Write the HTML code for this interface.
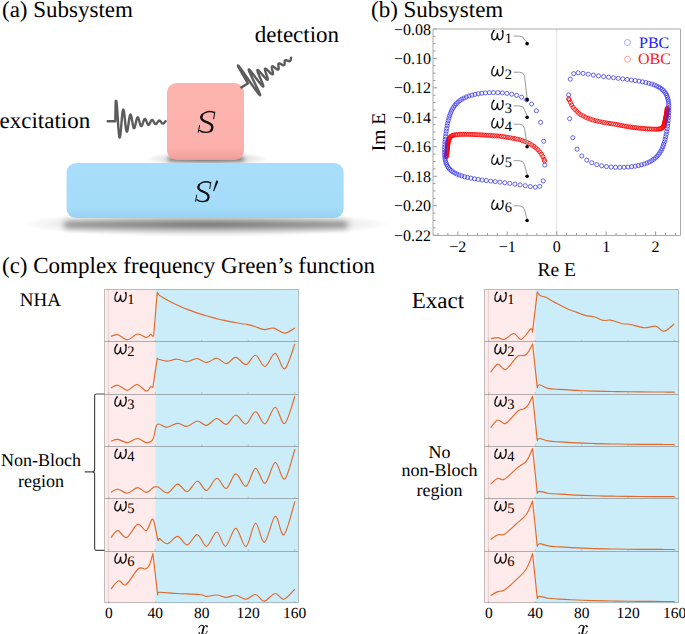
<!DOCTYPE html>
<html><head><meta charset="utf-8"><style>
html,body{margin:0;padding:0;background:#fff;}
body{width:685px;height:634px;overflow:hidden;position:relative;font-family:"Liberation Serif",serif;}
</style></head><body>
<svg width="685" height="634" viewBox="0 0 685 634" style="position:absolute;left:0;top:0" text-rendering="geometricPrecision">
<defs>
<filter id="blur4" x="-20%" y="-200%" width="140%" height="500%"><feGaussianBlur stdDeviation="3.4"/></filter>
<filter id="blur2" x="-20%" y="-200%" width="140%" height="500%"><feGaussianBlur stdDeviation="2.2"/></filter>
<radialGradient id="gsh" cx="0.5" cy="0.5" r="0.5"><stop offset="0" stop-color="#000" stop-opacity="0.3"/><stop offset="0.6" stop-color="#000" stop-opacity="0.13"/><stop offset="1" stop-color="#000" stop-opacity="0"/></radialGradient>
<linearGradient id="gpink" x1="0" y1="0" x2="0" y2="1"><stop offset="0" stop-color="#FDB4AF"/><stop offset="0.84" stop-color="#FBB0AB"/><stop offset="0.94" stop-color="#F5A5A0"/><stop offset="1" stop-color="#EE9B96"/></linearGradient>
<linearGradient id="gblue" x1="0" y1="0" x2="0" y2="1"><stop offset="0" stop-color="#A8DEFC"/><stop offset="0.8" stop-color="#A5DCFA"/><stop offset="1" stop-color="#98D2F2"/></linearGradient>
</defs>
<ellipse cx="206" cy="224" rx="186" ry="13" fill="url(#gsh)"/>
<rect x="64" y="221.8" width="284" height="6" rx="3" fill="#222" opacity="0.55" filter="url(#blur4)"/>
<ellipse cx="207" cy="159" rx="62" ry="8" fill="url(#gsh)"/>
<rect x="168" y="157.5" width="76" height="3.5" rx="1.7" fill="#222" opacity="0.7" filter="url(#blur2)"/>
<rect x="66.6" y="163" width="277" height="55" rx="9.5" fill="url(#gblue)"/>
<rect x="167" y="83" width="77" height="77" rx="9.5" fill="url(#gpink)"/>
<g transform="translate(197.6,111.6) scale(1.08,1.05)" fill="none" stroke="#111" stroke-linecap="round"><path d="M15.5,1.0 C13.4,-0.1 9.6,-0.3 7.1,0.9 C4.6,2.1 3.0,4.4 3.6,6.5 C4.2,8.6 7.5,9.6 10.0,10.7 C12.5,11.8 14.1,13.3 13.6,15.7 C13.1,18.2 10.5,19.8 7.8,19.8 C5.4,19.8 3.4,19.3 2.1,17.9" stroke-width="1.35"/><path d="M4.2,3.2 C3.3,4.6 3.2,5.8 3.7,6.8 C4.5,8.7 7.6,9.7 10.0,10.7 C12.5,11.8 14.0,13.3 13.6,15.7 C13.4,16.8 12.9,17.7 12.2,18.4" stroke-width="2.2"/><path d="M15.9,0.3 L14.9,6.8 M1.8,13.3 L0.6,19.6" stroke-width="0.95"/></g>
<g transform="translate(194.9,181.8) scale(1,1)" fill="none" stroke="#111" stroke-linecap="round"><path d="M15.5,1.0 C13.4,-0.1 9.6,-0.3 7.1,0.9 C4.6,2.1 3.0,4.4 3.6,6.5 C4.2,8.6 7.5,9.6 10.0,10.7 C12.5,11.8 14.1,13.3 13.6,15.7 C13.1,18.2 10.5,19.8 7.8,19.8 C5.4,19.8 3.4,19.3 2.1,17.9" stroke-width="1.35"/><path d="M4.2,3.2 C3.3,4.6 3.2,5.8 3.7,6.8 C4.5,8.7 7.6,9.7 10.0,10.7 C12.5,11.8 14.0,13.3 13.6,15.7 C13.4,16.8 12.9,17.7 12.2,18.4" stroke-width="2.2"/><path d="M15.9,0.3 L14.9,6.8 M1.8,13.3 L0.6,19.6" stroke-width="0.95"/></g>
<path d="M216.2,180.6 Q217.8,180.2 218.2,181.8 L214.2,190.9 Q213.6,191.4 213.2,190.8 Z" fill="#111"/>
<path d="M0,0 L7.6,0 L7.95,-19.18 L8.15,-20.17 L8.35,-20.52 L8.55,-20.24 L8.75,-19.36 L8.95,-17.91 L9.15,-15.96 L9.35,-13.58 L9.55,-10.85 L9.75,-7.87 L9.95,-4.73 L10.15,-1.52 L10.35,1.65 L10.55,4.69 L10.75,7.51 L10.95,10.04 L11.15,12.2 L11.35,13.95 L11.55,15.24 L11.75,16.05 L11.95,16.37 L12.15,16.2 L12.35,15.56 L12.55,14.49 L12.75,13.02 L12.95,11.22 L13.15,9.15 L13.35,6.88 L13.55,4.48 L13.75,2.04 L13.95,-0.39 L14.15,-2.71 L14.35,-4.87 L14.55,-6.8 L14.75,-8.46 L14.95,-9.79 L15.15,-10.77 L15.35,-11.38 L15.55,-11.61 L15.75,-11.46 L15.95,-10.94 L16.15,-10.09 L16.35,-8.94 L16.55,-7.52 L16.75,-5.9 L16.95,-4.11 L17.15,-2.23 L17.35,-0.31 L17.55,1.59 L17.75,3.42 L17.95,5.12 L18.15,6.64 L18.35,7.95 L18.55,9.01 L18.75,9.79 L18.95,10.28 L19.15,10.47 L19.35,10.37 L19.55,9.99 L19.75,9.34 L19.95,8.45 L20.15,7.35 L20.35,6.09 L20.55,4.71 L20.75,3.25 L20.95,1.75 L21.15,0.27 L21.35,-1.16 L21.55,-2.49 L21.75,-3.68 L21.95,-4.7 L22.15,-5.52 L22.35,-6.13 L22.55,-6.52 L22.75,-6.67 L22.95,-6.58 L23.15,-6.28 L23.35,-5.76 L23.55,-5.06 L23.75,-4.19 L23.95,-3.19 L24.15,-2.09 L24.35,-0.93 L24.55,0.25 L24.75,1.43 L24.95,2.57 L25.15,3.62 L25.35,4.57 L25.55,5.39 L25.75,6.05 L25.95,6.54 L26.15,6.85 L26.35,6.98 L26.55,6.92 L26.75,6.68 L26.95,6.28 L27.15,5.72 L27.35,5.04 L27.55,4.25 L27.75,3.38 L27.95,2.46 L28.15,1.51 L28.35,0.57 L28.55,-0.33 L28.75,-1.17 L28.95,-1.93 L29.15,-2.58 L29.35,-3.11 L29.55,-3.51 L29.75,-3.76 L29.95,-3.86 L30.15,-3.81 L30.35,-3.62 L30.55,-3.3 L30.75,-2.85 L30.95,-2.3 L31.15,-1.67 L31.35,-0.97 L31.55,-0.22 L31.75,0.54 L31.95,1.3 L32.15,2.03 L32.35,2.71 L32.55,3.33 L32.75,3.86 L32.95,4.29 L33.15,4.61 L33.35,4.82 L33.55,4.91 L33.75,4.87 L33.95,4.72 L34.15,4.46 L34.35,4.1 L34.55,3.66 L34.75,3.14 L34.95,2.57 L35.15,1.97 L35.35,1.35 L35.55,0.73 L35.75,0.13 L35.95,-0.42 L36.15,-0.93 L36.35,-1.36 L36.55,-1.72 L36.75,-1.98 L36.95,-2.15 L37.15,-2.23 L37.35,-2.2 L37.55,-2.08 L37.75,-1.86 L37.95,-1.57 L38.15,-1.21 L38.35,-0.78 L38.55,-0.31 L38.75,0.19 L38.95,0.7 L39.15,1.21 L39.35,1.7 L39.55,2.17 L39.75,2.58 L39.95,2.95 L40.15,3.24 L40.35,3.46 L40.55,3.61 L40.75,3.67 L40.95,3.65 L41.15,3.55 L41.35,3.38 L41.55,3.13 L41.75,2.83 L41.95,2.48 L42.15,2.09 L42.35,1.67 L42.55,1.24 L42.75,0.82 L42.95,0.4 L43.15,0.02 L43.35,-0.34 L43.55,-0.64 L43.75,-0.89 L43.95,-1.08 L44.15,-1.2 L44.35,-1.25 L44.55,-1.24 L44.75,-1.16 L44.95,-1.01 L45.15,-0.81 L45.35,-0.55 L45.55,-0.25 L45.75,0.07 L45.95,0.43 L46.15,0.79 L46.35,1.15 L46.55,1.5 L46.75,1.83 L46.95,2.13 L47.15,2.39 L47.35,2.6 L47.55,2.76 L47.75,2.87 L47.95,2.92 L48.15,2.91 L48.35,2.84 L48.55,2.71 L48.75,2.54 L48.95,2.32 L49.15,2.07 L49.35,1.79 L49.55,1.49 L49.75,1.18 L49.95,0.87 L50.15,0.57 L50.35,0.28 L50.55,0.03 L50.75,-0.2 L50.95,-0.38 L51.15,-0.52 L51.35,-0.61 L51.55,-0.66 L51.75,-0.65 L51.95,-0.59 L52.15,-0.48 L52.35,-0.33 L52.55,-0.15 L52.75,0.07 L52.95,0.31 L53.15,0.57 L53.35,0.84 L53.55,1.11 L53.75,1.38 L53.95,1.62 L54.15,1.85 L54.35,2.04 L54.55,2.2 L54.75,2.33 L54.95,2.41 L55.15,2.44 L55.35,2.44 L55.55,2.39 L55.75,2.3 L55.95,2.17 L56.15,2 L56.35,1.81 L56.55,1.6 L56.75,1.37 L56.95,1.14 L57.15,0.9 L57.35,0.67 L57.55,0.45 L57.75,0.25 L57.95,0.08" transform="translate(107.7,121.2)" fill="none" stroke="#5c5c5c" stroke-width="2.4" stroke-linecap="round" stroke-linejoin="round"/>
<path d="M0,0 L7.6,0 L7.95,-19.18 L8.15,-20.17 L8.35,-20.52 L8.55,-20.24 L8.75,-19.36 L8.95,-17.91 L9.15,-15.96 L9.35,-13.58 L9.55,-10.85 L9.75,-7.87 L9.95,-4.73 L10.15,-1.52 L10.35,1.65 L10.55,4.69 L10.75,7.51 L10.95,10.04 L11.15,12.2 L11.35,13.95 L11.55,15.24 L11.75,16.05 L11.95,16.37 L12.15,16.2 L12.35,15.56 L12.55,14.49 L12.75,13.02 L12.95,11.22 L13.15,9.15 L13.35,6.88 L13.55,4.48 L13.75,2.04 L13.95,-0.39 L14.15,-2.71 L14.35,-4.87 L14.55,-6.8 L14.75,-8.46 L14.95,-9.79 L15.15,-10.77 L15.35,-11.38 L15.55,-11.61 L15.75,-11.46 L15.95,-10.94 L16.15,-10.09 L16.35,-8.94 L16.55,-7.52 L16.75,-5.9 L16.95,-4.11 L17.15,-2.23 L17.35,-0.31 L17.55,1.59 L17.75,3.42 L17.95,5.12 L18.15,6.64 L18.35,7.95 L18.55,9.01 L18.75,9.79 L18.95,10.28 L19.15,10.47 L19.35,10.37 L19.55,9.99 L19.75,9.34 L19.95,8.45 L20.15,7.35 L20.35,6.09 L20.55,4.71 L20.75,3.25 L20.95,1.75 L21.15,0.27 L21.35,-1.16 L21.55,-2.49 L21.75,-3.68 L21.95,-4.7 L22.15,-5.52 L22.35,-6.13 L22.55,-6.52 L22.75,-6.67 L22.95,-6.58 L23.15,-6.28 L23.35,-5.76 L23.55,-5.06 L23.75,-4.19 L23.95,-3.19 L24.15,-2.09 L24.35,-0.93 L24.55,0.25 L24.75,1.43 L24.95,2.57 L25.15,3.62 L25.35,4.57 L25.55,5.39 L25.75,6.05 L25.95,6.54 L26.15,6.85 L26.35,6.98 L26.55,6.92 L26.75,6.68 L26.95,6.28 L27.15,5.72 L27.35,5.04 L27.55,4.25 L27.75,3.38 L27.95,2.46 L28.15,1.51 L28.35,0.57 L28.55,-0.33 L28.75,-1.17 L28.95,-1.93 L29.15,-2.58 L29.35,-3.11 L29.55,-3.51 L29.75,-3.76 L29.95,-3.86 L30.15,-3.81 L30.35,-3.62 L30.55,-3.3 L30.75,-2.85 L30.95,-2.3 L31.15,-1.67 L31.35,-0.97 L31.55,-0.22 L31.75,0.54 L31.95,1.3 L32.15,2.03 L32.35,2.71 L32.55,3.33 L32.75,3.86 L32.95,4.29 L33.15,4.61 L33.35,4.82 L33.55,4.91 L33.75,4.87 L33.95,4.72 L34.15,4.46 L34.35,4.1 L34.55,3.66 L34.75,3.14 L34.95,2.57 L35.15,1.97 L35.35,1.35 L35.55,0.73 L35.75,0.13 L35.95,-0.42 L36.15,-0.93 L36.35,-1.36 L36.55,-1.72 L36.75,-1.98 L36.95,-2.15 L37.15,-2.23 L37.35,-2.2 L37.55,-2.08 L37.75,-1.86 L37.95,-1.57 L38.15,-1.21 L38.35,-0.78 L38.55,-0.31 L38.75,0.19 L38.95,0.7 L39.15,1.21 L39.35,1.7 L39.55,2.17 L39.75,2.58 L39.95,2.95 L40.15,3.24 L40.35,3.46 L40.55,3.61 L40.75,3.67 L40.95,3.65 L41.15,3.55 L41.35,3.38 L41.55,3.13 L41.75,2.83 L41.95,2.48 L42.15,2.09 L42.35,1.67 L42.55,1.24 L42.75,0.82 L42.95,0.4 L43.15,0.02 L43.35,-0.34 L43.55,-0.64 L43.75,-0.89 L43.95,-1.08 L44.15,-1.2 L44.35,-1.25 L44.55,-1.24 L44.75,-1.16 L44.95,-1.01 L45.15,-0.81 L45.35,-0.55 L45.55,-0.25 L45.75,0.07 L45.95,0.43 L46.15,0.79 L46.35,1.15 L46.55,1.5 L46.75,1.83 L46.95,2.13 L47.15,2.39 L47.35,2.6 L47.55,2.76 L47.75,2.87 L47.95,2.92 L48.15,2.91 L48.35,2.84 L48.55,2.71 L48.75,2.54 L48.95,2.32 L49.15,2.07 L49.35,1.79 L49.55,1.49 L49.75,1.18 L49.95,0.87 L50.15,0.57 L50.35,0.28 L50.55,0.03 L50.75,-0.2 L50.95,-0.38 L51.15,-0.52 L51.35,-0.61 L51.55,-0.66 L51.75,-0.65 L51.95,-0.59 L52.15,-0.48 L52.35,-0.33 L52.55,-0.15 L52.75,0.07 L52.95,0.31 L53.15,0.57 L53.35,0.84 L53.55,1.11 L53.75,1.38 L53.95,1.62 L54.15,1.85 L54.35,2.04 L54.55,2.2 L54.75,2.33 L54.95,2.41 L55.15,2.44 L55.35,2.44 L55.55,2.39 L55.75,2.3 L55.95,2.17 L56.15,2 L56.35,1.81 L56.55,1.6 L56.75,1.37 L56.95,1.14 L57.15,0.9 L57.35,0.67 L57.55,0.45 L57.75,0.25 L57.95,0.08" transform="translate(241.4,87.4) rotate(-31)" fill="none" stroke="#5c5c5c" stroke-width="2.4" stroke-linecap="round" stroke-linejoin="round"/>
<text x="2" y="17" font-family="'Liberation Serif', serif" font-size="23">(a) Subsystem</text>
<text x="254.8" y="41.5" font-family="'Liberation Serif', serif" font-size="23">detection</text>
<text x="-0.5" y="127.7" font-family="'Liberation Serif', serif" font-size="23">excitation</text>
<text x="371" y="17" font-family="'Liberation Serif', serif" font-size="23">(b) Subsystem</text>
<line x1="556.7" y1="29" x2="556.7" y2="235" stroke="#e2e2e2" stroke-width="1"/>
<path d="M438.02,235.5 V233 M447.91,235.5 V233 M457.8,235.5 V231.5 M467.69,235.5 V233 M477.58,235.5 V233 M487.47,235.5 V233 M497.36,235.5 V233 M507.25,235.5 V231.5 M517.14,235.5 V233 M527.03,235.5 V233 M536.92,235.5 V233 M546.81,235.5 V233 M556.7,235.5 V231.5 M566.59,235.5 V233 M576.48,235.5 V233 M586.37,235.5 V233 M596.26,235.5 V233 M606.15,235.5 V231.5 M616.04,235.5 V233 M625.93,235.5 V233 M635.82,235.5 V233 M645.71,235.5 V233 M655.6,235.5 V231.5 M665.49,235.5 V233 M675.38,235.5 V233 M433,28.9 H437 M433,36.27 H435.5 M433,43.63 H435.5 M433,51 H435.5 M433,58.37 H437 M433,65.74 H435.5 M433,73.1 H435.5 M433,80.47 H435.5 M433,87.84 H437 M433,95.21 H435.5 M433,102.57 H435.5 M433,109.94 H435.5 M433,117.31 H437 M433,124.68 H435.5 M433,132.05 H435.5 M433,139.41 H435.5 M433,146.78 H437 M433,154.15 H435.5 M433,161.51 H435.5 M433,168.88 H435.5 M433,176.25 H437 M433,183.62 H435.5 M433,190.99 H435.5 M433,198.35 H435.5 M433,205.72 H437 M433,213.09 H435.5 M433,220.46 H435.5 M433,227.82 H435.5 M433,235.19 H437" stroke="#999" stroke-width="1" fill="none"/>
<path d="M433,29 H680.5 V235.5 H433 Z" fill="none" stroke="#aaa" stroke-width="1"/>
<text x="431" y="34.5" font-family="'Liberation Serif', serif" font-size="16" text-anchor="end">−0.08</text>
<text x="431" y="63.97" font-family="'Liberation Serif', serif" font-size="16" text-anchor="end">−0.10</text>
<text x="431" y="93.44" font-family="'Liberation Serif', serif" font-size="16" text-anchor="end">−0.12</text>
<text x="431" y="122.91" font-family="'Liberation Serif', serif" font-size="16" text-anchor="end">−0.14</text>
<text x="431" y="152.38" font-family="'Liberation Serif', serif" font-size="16" text-anchor="end">−0.16</text>
<text x="431" y="181.85" font-family="'Liberation Serif', serif" font-size="16" text-anchor="end">−0.18</text>
<text x="431" y="211.32" font-family="'Liberation Serif', serif" font-size="16" text-anchor="end">−0.20</text>
<text x="431" y="240.79" font-family="'Liberation Serif', serif" font-size="16" text-anchor="end">−0.22</text>
<text x="457.8" y="251.6" font-family="'Liberation Serif', serif" font-size="16" text-anchor="middle">−2</text>
<text x="507.25" y="251.6" font-family="'Liberation Serif', serif" font-size="16" text-anchor="middle">−1</text>
<text x="556.7" y="251.6" font-family="'Liberation Serif', serif" font-size="16" text-anchor="middle">0</text>
<text x="606.15" y="251.6" font-family="'Liberation Serif', serif" font-size="16" text-anchor="middle">1</text>
<text x="655.6" y="251.6" font-family="'Liberation Serif', serif" font-size="16" text-anchor="middle">2</text>
<text x="556.8" y="275.5" font-family="'Liberation Serif', serif" font-size="19.5" text-anchor="middle">Re E</text>
<text transform="translate(384.5,132) rotate(-90)" font-family="'Liberation Serif', serif" font-size="19.5" text-anchor="middle">Im E</text>
<g fill="none" stroke="#ff0000" stroke-opacity="0.82" stroke-width="1.0"><circle cx="446.3" cy="156.8" r="2.05"/><circle cx="446.4" cy="156.1" r="2.05"/><circle cx="446.5" cy="155.4" r="2.05"/><circle cx="446.6" cy="154.7" r="2.05"/><circle cx="446.7" cy="154" r="2.05"/><circle cx="446.79" cy="153.3" r="2.05"/><circle cx="446.88" cy="152.64" r="2.05"/><circle cx="446.97" cy="151.94" r="2.05"/><circle cx="447.06" cy="151.23" r="2.05"/><circle cx="447.14" cy="150.53" r="2.05"/><circle cx="447.22" cy="149.83" r="2.05"/><circle cx="447.29" cy="149.12" r="2.05"/><circle cx="447.35" cy="148.46" r="2.05"/><circle cx="447.42" cy="147.76" r="2.05"/><circle cx="447.48" cy="147.05" r="2.05"/><circle cx="447.54" cy="146.34" r="2.05"/><circle cx="447.61" cy="145.64" r="2.05"/><circle cx="447.68" cy="144.98" r="2.05"/><circle cx="447.76" cy="144.28" r="2.05"/><circle cx="447.86" cy="143.58" r="2.05"/><circle cx="447.97" cy="142.87" r="2.05"/><circle cx="448.08" cy="142.21" r="2.05"/><circle cx="448.22" cy="141.51" r="2.05"/><circle cx="448.39" cy="140.78" r="2.05"/><circle cx="448.59" cy="140.03" r="2.05"/><circle cx="448.89" cy="139.2" r="2.05"/><circle cx="449.3" cy="138.35" r="2.05"/><circle cx="449.86" cy="137.48" r="2.05"/><circle cx="450.63" cy="136.66" r="2.05"/><circle cx="451.61" cy="135.94" r="2.05"/><circle cx="452.8" cy="135.39" r="2.05"/><circle cx="454.16" cy="135" r="2.05"/><circle cx="455.7" cy="134.73" r="2.05"/><circle cx="457.39" cy="134.59" r="2.05"/><circle cx="459.17" cy="134.47" r="2.05"/><circle cx="460.97" cy="134.38" r="2.05"/><circle cx="462.76" cy="134.32" r="2.05"/><circle cx="464.6" cy="134.3" r="2.05"/><circle cx="466.43" cy="134.31" r="2.05"/><circle cx="468.3" cy="134.35" r="2.05"/><circle cx="470.17" cy="134.4" r="2.05"/><circle cx="472.08" cy="134.48" r="2.05"/><circle cx="474.04" cy="134.56" r="2.05"/><circle cx="475.99" cy="134.65" r="2.05"/><circle cx="477.95" cy="134.74" r="2.05"/><circle cx="479.98" cy="134.84" r="2.05"/><circle cx="481.98" cy="134.94" r="2.05"/><circle cx="484.05" cy="135.05" r="2.05"/><circle cx="486.13" cy="135.18" r="2.05"/><circle cx="488.21" cy="135.31" r="2.05"/><circle cx="490.32" cy="135.46" r="2.05"/><circle cx="492.48" cy="135.61" r="2.05"/><circle cx="494.64" cy="135.76" r="2.05"/><circle cx="496.84" cy="135.92" r="2.05"/><circle cx="499.08" cy="136.11" r="2.05"/><circle cx="501.31" cy="136.35" r="2.05"/><circle cx="503.58" cy="136.68" r="2.05"/><circle cx="505.84" cy="137.06" r="2.05"/><circle cx="508.13" cy="137.46" r="2.05"/><circle cx="510.48" cy="137.84" r="2.05"/><circle cx="512.83" cy="138.23" r="2.05"/><circle cx="515.21" cy="138.66" r="2.05"/><circle cx="517.6" cy="139.16" r="2.05"/><circle cx="519.97" cy="139.77" r="2.05"/><circle cx="522.35" cy="140.54" r="2.05"/><circle cx="524.74" cy="141.45" r="2.05"/><circle cx="527.07" cy="142.45" r="2.05"/><circle cx="529.41" cy="143.6" r="2.05"/><circle cx="531.67" cy="144.9" r="2.05"/><circle cx="533.89" cy="146.39" r="2.05"/><circle cx="536" cy="148.05" r="2.05"/><circle cx="538" cy="149.88" r="2.05"/><circle cx="539.85" cy="151.93" r="2.05"/><circle cx="541.42" cy="154.19" r="2.05"/><circle cx="542.82" cy="156.62" r="2.05"/><circle cx="544.01" cy="159.24" r="2.05"/><circle cx="544.6" cy="160.9" r="2.05"/><circle cx="667.3" cy="108.3" r="2.05"/><circle cx="667.22" cy="109" r="2.05"/><circle cx="667.13" cy="109.7" r="2.05"/><circle cx="667.04" cy="110.4" r="2.05"/><circle cx="666.95" cy="111.1" r="2.05"/><circle cx="666.85" cy="111.8" r="2.05"/><circle cx="666.74" cy="112.49" r="2.05"/><circle cx="666.63" cy="113.19" r="2.05"/><circle cx="666.52" cy="113.89" r="2.05"/><circle cx="666.41" cy="114.54" r="2.05"/><circle cx="666.28" cy="115.23" r="2.05"/><circle cx="666.15" cy="115.92" r="2.05"/><circle cx="666" cy="116.62" r="2.05"/><circle cx="665.86" cy="117.31" r="2.05"/><circle cx="665.71" cy="118" r="2.05"/><circle cx="665.57" cy="118.69" r="2.05"/><circle cx="665.42" cy="119.38" r="2.05"/><circle cx="665.29" cy="120.03" r="2.05"/><circle cx="665.15" cy="120.72" r="2.05"/><circle cx="665" cy="121.41" r="2.05"/><circle cx="664.85" cy="122.1" r="2.05"/><circle cx="664.69" cy="122.79" r="2.05"/><circle cx="664.51" cy="123.46" r="2.05"/><circle cx="664.32" cy="124.15" r="2.05"/><circle cx="664.09" cy="124.95" r="2.05"/><circle cx="663.81" cy="125.76" r="2.05"/><circle cx="663.41" cy="126.62" r="2.05"/><circle cx="662.78" cy="127.44" r="2.05"/><circle cx="661.93" cy="128.15" r="2.05"/><circle cx="660.85" cy="128.64" r="2.05"/><circle cx="659.55" cy="128.94" r="2.05"/><circle cx="658.12" cy="129.14" r="2.05"/><circle cx="656.57" cy="129.2" r="2.05"/><circle cx="654.87" cy="129.17" r="2.05"/><circle cx="653.09" cy="129.12" r="2.05"/><circle cx="651.3" cy="129.05" r="2.05"/><circle cx="649.52" cy="128.98" r="2.05"/><circle cx="647.7" cy="128.88" r="2.05"/><circle cx="645.84" cy="128.74" r="2.05"/><circle cx="643.98" cy="128.58" r="2.05"/><circle cx="642.12" cy="128.4" r="2.05"/><circle cx="640.18" cy="128.22" r="2.05"/><circle cx="638.28" cy="128.03" r="2.05"/><circle cx="636.3" cy="127.81" r="2.05"/><circle cx="634.36" cy="127.58" r="2.05"/><circle cx="632.35" cy="127.32" r="2.05"/><circle cx="630.34" cy="127.05" r="2.05"/><circle cx="628.33" cy="126.74" r="2.05"/><circle cx="626.29" cy="126.39" r="2.05"/><circle cx="624.2" cy="126.01" r="2.05"/><circle cx="622.13" cy="125.61" r="2.05"/><circle cx="620.01" cy="125.2" r="2.05"/><circle cx="617.86" cy="124.76" r="2.05"/><circle cx="615.7" cy="124.33" r="2.05"/><circle cx="613.48" cy="124.02" r="2.05"/><circle cx="611.26" cy="123.74" r="2.05"/><circle cx="609.01" cy="123.39" r="2.05"/><circle cx="606.72" cy="122.99" r="2.05"/><circle cx="604.43" cy="122.58" r="2.05"/><circle cx="602.11" cy="122.14" r="2.05"/><circle cx="599.75" cy="121.67" r="2.05"/><circle cx="597.4" cy="121.16" r="2.05"/><circle cx="595.02" cy="120.59" r="2.05"/><circle cx="592.63" cy="119.89" r="2.05"/><circle cx="590.28" cy="119.09" r="2.05"/><circle cx="587.9" cy="118.2" r="2.05"/><circle cx="585.54" cy="117.19" r="2.05"/><circle cx="583.22" cy="115.99" r="2.05"/><circle cx="580.91" cy="114.74" r="2.05"/><circle cx="578.69" cy="113.26" r="2.05"/><circle cx="576.84" cy="111.35" r="2.05"/><circle cx="574.89" cy="109.46" r="2.05"/><circle cx="573.12" cy="107.35" r="2.05"/><circle cx="571.67" cy="104.97" r="2.05"/><circle cx="570.46" cy="102.42" r="2.05"/><circle cx="569.21" cy="99.84" r="2.05"/><circle cx="568.7" cy="98.8" r="2.05"/></g>
<g fill="none" stroke="#3030f0" stroke-opacity="0.78" stroke-width="0.95"><circle cx="444.62" cy="154.58" r="2.05"/><circle cx="444.55" cy="152.24" r="2.05"/><circle cx="444.56" cy="149.81" r="2.05"/><circle cx="444.65" cy="147.3" r="2.05"/><circle cx="444.8" cy="144.71" r="2.05"/><circle cx="445.01" cy="142.06" r="2.05"/><circle cx="445.27" cy="139.37" r="2.05"/><circle cx="445.56" cy="136.64" r="2.05"/><circle cx="445.9" cy="133.9" r="2.05"/><circle cx="446.28" cy="131.16" r="2.05"/><circle cx="446.7" cy="128.44" r="2.05"/><circle cx="447.17" cy="125.76" r="2.05"/><circle cx="447.69" cy="123.12" r="2.05"/><circle cx="448.27" cy="120.56" r="2.05"/><circle cx="448.92" cy="118.07" r="2.05"/><circle cx="449.64" cy="115.67" r="2.05"/><circle cx="450.46" cy="113.37" r="2.05"/><circle cx="451.38" cy="111.18" r="2.05"/><circle cx="452.42" cy="109.1" r="2.05"/><circle cx="453.59" cy="107.14" r="2.05"/><circle cx="454.9" cy="105.31" r="2.05"/><circle cx="456.37" cy="103.6" r="2.05"/><circle cx="458.01" cy="102.02" r="2.05"/><circle cx="459.82" cy="100.57" r="2.05"/><circle cx="461.83" cy="99.23" r="2.05"/><circle cx="464.03" cy="98.03" r="2.05"/><circle cx="466.44" cy="96.94" r="2.05"/><circle cx="469.07" cy="95.97" r="2.05"/><circle cx="471.91" cy="95.12" r="2.05"/><circle cx="474.97" cy="94.39" r="2.05"/><circle cx="478.24" cy="93.78" r="2.05"/><circle cx="481.74" cy="93.29" r="2.05"/><circle cx="485.45" cy="92.92" r="2.05"/><circle cx="489.37" cy="92.68" r="2.05"/><circle cx="493.49" cy="92.59" r="2.05"/><circle cx="497.8" cy="92.65" r="2.05"/><circle cx="502.29" cy="92.91" r="2.05"/><circle cx="506.94" cy="93.4" r="2.05"/><circle cx="511.73" cy="94.19" r="2.05"/><circle cx="516.63" cy="95.38" r="2.05"/><circle cx="521.61" cy="97.17" r="2.05"/><circle cx="526.62" cy="99.85" r="2.05"/><circle cx="531.57" cy="104.02" r="2.05"/><circle cx="536.33" cy="110.78" r="2.05"/><circle cx="540.6" cy="122.26" r="2.05"/><circle cx="543.76" cy="141.28" r="2.05"/><circle cx="544.78" cy="165.04" r="2.05"/><circle cx="543.17" cy="180.88" r="2.05"/><circle cx="539.69" cy="186.31" r="2.05"/><circle cx="535.25" cy="187.13" r="2.05"/><circle cx="530.35" cy="186.57" r="2.05"/><circle cx="525.25" cy="185.72" r="2.05"/><circle cx="520.08" cy="184.87" r="2.05"/><circle cx="514.92" cy="184.09" r="2.05"/><circle cx="509.83" cy="183.39" r="2.05"/><circle cx="504.82" cy="182.76" r="2.05"/><circle cx="499.95" cy="182.17" r="2.05"/><circle cx="495.22" cy="181.62" r="2.05"/><circle cx="490.66" cy="181.07" r="2.05"/><circle cx="486.28" cy="180.53" r="2.05"/><circle cx="482.11" cy="179.98" r="2.05"/><circle cx="478.15" cy="179.4" r="2.05"/><circle cx="474.4" cy="178.8" r="2.05"/><circle cx="470.89" cy="178.15" r="2.05"/><circle cx="467.6" cy="177.46" r="2.05"/><circle cx="464.56" cy="176.71" r="2.05"/><circle cx="461.76" cy="175.89" r="2.05"/><circle cx="459.19" cy="175.01" r="2.05"/><circle cx="456.86" cy="174.05" r="2.05"/><circle cx="454.77" cy="173" r="2.05"/><circle cx="452.9" cy="171.86" r="2.05"/><circle cx="451.26" cy="170.63" r="2.05"/><circle cx="449.82" cy="169.29" r="2.05"/><circle cx="448.59" cy="167.85" r="2.05"/><circle cx="447.56" cy="166.29" r="2.05"/><circle cx="446.7" cy="164.63" r="2.05"/><circle cx="446" cy="162.85" r="2.05"/><circle cx="445.46" cy="160.95" r="2.05"/><circle cx="445.06" cy="158.94" r="2.05"/><circle cx="444.78" cy="156.81" r="2.05"/><circle cx="668.78" cy="105.39" r="2.05"/><circle cx="668.85" cy="107.72" r="2.05"/><circle cx="668.84" cy="110.15" r="2.05"/><circle cx="668.75" cy="112.67" r="2.05"/><circle cx="668.6" cy="115.26" r="2.05"/><circle cx="668.39" cy="117.9" r="2.05"/><circle cx="668.13" cy="120.6" r="2.05"/><circle cx="667.84" cy="123.32" r="2.05"/><circle cx="667.5" cy="126.07" r="2.05"/><circle cx="667.12" cy="128.8" r="2.05"/><circle cx="666.7" cy="131.52" r="2.05"/><circle cx="666.23" cy="134.21" r="2.05"/><circle cx="665.71" cy="136.84" r="2.05"/><circle cx="665.13" cy="139.41" r="2.05"/><circle cx="664.48" cy="141.9" r="2.05"/><circle cx="663.76" cy="144.3" r="2.05"/><circle cx="662.94" cy="146.6" r="2.05"/><circle cx="662.02" cy="148.79" r="2.05"/><circle cx="660.98" cy="150.86" r="2.05"/><circle cx="659.81" cy="152.82" r="2.05"/><circle cx="658.5" cy="154.65" r="2.05"/><circle cx="657.03" cy="156.36" r="2.05"/><circle cx="655.39" cy="157.94" r="2.05"/><circle cx="653.58" cy="159.4" r="2.05"/><circle cx="651.57" cy="160.73" r="2.05"/><circle cx="649.37" cy="161.94" r="2.05"/><circle cx="646.96" cy="163.02" r="2.05"/><circle cx="644.33" cy="163.99" r="2.05"/><circle cx="641.49" cy="164.84" r="2.05"/><circle cx="638.43" cy="165.57" r="2.05"/><circle cx="635.16" cy="166.18" r="2.05"/><circle cx="631.66" cy="166.68" r="2.05"/><circle cx="627.95" cy="167.04" r="2.05"/><circle cx="624.03" cy="167.28" r="2.05"/><circle cx="619.91" cy="167.38" r="2.05"/><circle cx="615.6" cy="167.31" r="2.05"/><circle cx="611.11" cy="167.05" r="2.05"/><circle cx="606.46" cy="166.57" r="2.05"/><circle cx="601.67" cy="165.78" r="2.05"/><circle cx="596.77" cy="164.58" r="2.05"/><circle cx="591.79" cy="162.8" r="2.05"/><circle cx="586.78" cy="160.11" r="2.05"/><circle cx="581.83" cy="155.94" r="2.05"/><circle cx="577.07" cy="149.18" r="2.05"/><circle cx="572.8" cy="137.7" r="2.05"/><circle cx="569.64" cy="118.68" r="2.05"/><circle cx="568.62" cy="94.92" r="2.05"/><circle cx="570.23" cy="79.08" r="2.05"/><circle cx="573.71" cy="73.65" r="2.05"/><circle cx="578.15" cy="72.84" r="2.05"/><circle cx="583.05" cy="73.39" r="2.05"/><circle cx="588.15" cy="74.24" r="2.05"/><circle cx="593.32" cy="75.09" r="2.05"/><circle cx="598.48" cy="75.87" r="2.05"/><circle cx="603.57" cy="76.57" r="2.05"/><circle cx="608.58" cy="77.2" r="2.05"/><circle cx="613.45" cy="77.79" r="2.05"/><circle cx="618.18" cy="78.35" r="2.05"/><circle cx="622.74" cy="78.89" r="2.05"/><circle cx="627.12" cy="79.44" r="2.05"/><circle cx="631.29" cy="79.99" r="2.05"/><circle cx="635.25" cy="80.56" r="2.05"/><circle cx="639" cy="81.17" r="2.05"/><circle cx="642.51" cy="81.81" r="2.05"/><circle cx="645.8" cy="82.51" r="2.05"/><circle cx="648.84" cy="83.26" r="2.05"/><circle cx="651.64" cy="84.07" r="2.05"/><circle cx="654.21" cy="84.95" r="2.05"/><circle cx="656.54" cy="85.92" r="2.05"/><circle cx="658.63" cy="86.96" r="2.05"/><circle cx="660.5" cy="88.1" r="2.05"/><circle cx="662.14" cy="89.34" r="2.05"/><circle cx="663.58" cy="90.67" r="2.05"/><circle cx="664.81" cy="92.12" r="2.05"/><circle cx="665.84" cy="93.67" r="2.05"/><circle cx="666.7" cy="95.34" r="2.05"/><circle cx="667.4" cy="97.12" r="2.05"/><circle cx="667.94" cy="99.02" r="2.05"/><circle cx="668.34" cy="101.03" r="2.05"/><circle cx="668.62" cy="103.15" r="2.05"/></g>
<circle cx="627.5" cy="42.5" r="3" fill="none" stroke="#9a9aff" stroke-width="0.9"/>
<circle cx="627.5" cy="59.2" r="3" fill="none" stroke="#ff9a9a" stroke-width="0.9"/>
<text x="639" y="48" font-family="'Liberation Serif', serif" font-size="16" fill="#1a1aff">PBC</text>
<text x="638" y="64.2" font-family="'Liberation Serif', serif" font-size="16" fill="#ff1a1a">OBC</text>
<path d="M513.8,36.1 H519.5 Q523.5,36.1 524.5,40.1 L527.1,42.13" fill="none" stroke="#999" stroke-width="1"/>
<circle cx="527.1" cy="43.63" r="1.8" fill="#000"/>
<g transform="translate(491.2,39.8) scale(1)"><path d="M2.7,-9.3 C1.3,-7.6 0.3,-4.6 0.6,-2.4 C0.9,-0.4 2.6,0.3 3.9,-0.3 C5.3,-1 6.1,-3.6 6.3,-6.1 M6.3,-6.1 C6.2,-3.4 6.5,-0.6 8.1,-0.1 C9.6,0.3 11.1,-1.6 11.6,-3.8 C12,-5.6 11.9,-7.6 11.4,-8.9" fill="none" stroke="#111" stroke-width="1.35" stroke-linecap="round"/><circle cx="11.35" cy="-8.6" r="0.95" fill="#111"/><circle cx="2.75" cy="-9.2" r="0.6" fill="#111"/></g>
<text x="504.8" y="42.7" font-family="'Liberation Serif', serif" font-size="14.5">1</text>
<path d="M513.8,72.2 H519.5 Q523.5,72.2 524.5,76.2 L527.1,98.13" fill="none" stroke="#999" stroke-width="1"/>
<circle cx="527.1" cy="99.63" r="1.8" fill="#000"/>
<g transform="translate(491.2,75.9) scale(1)"><path d="M2.7,-9.3 C1.3,-7.6 0.3,-4.6 0.6,-2.4 C0.9,-0.4 2.6,0.3 3.9,-0.3 C5.3,-1 6.1,-3.6 6.3,-6.1 M6.3,-6.1 C6.2,-3.4 6.5,-0.6 8.1,-0.1 C9.6,0.3 11.1,-1.6 11.6,-3.8 C12,-5.6 11.9,-7.6 11.4,-8.9" fill="none" stroke="#111" stroke-width="1.35" stroke-linecap="round"/><circle cx="11.35" cy="-8.6" r="0.95" fill="#111"/><circle cx="2.75" cy="-9.2" r="0.6" fill="#111"/></g>
<text x="504.8" y="78.8" font-family="'Liberation Serif', serif" font-size="14.5">2</text>
<path d="M513.8,105.9 H519.5 Q523.5,105.9 524.5,109.9 L527.1,115.81" fill="none" stroke="#999" stroke-width="1"/>
<circle cx="527.1" cy="117.31" r="1.8" fill="#000"/>
<g transform="translate(491.2,109.6) scale(1)"><path d="M2.7,-9.3 C1.3,-7.6 0.3,-4.6 0.6,-2.4 C0.9,-0.4 2.6,0.3 3.9,-0.3 C5.3,-1 6.1,-3.6 6.3,-6.1 M6.3,-6.1 C6.2,-3.4 6.5,-0.6 8.1,-0.1 C9.6,0.3 11.1,-1.6 11.6,-3.8 C12,-5.6 11.9,-7.6 11.4,-8.9" fill="none" stroke="#111" stroke-width="1.35" stroke-linecap="round"/><circle cx="11.35" cy="-8.6" r="0.95" fill="#111"/><circle cx="2.75" cy="-9.2" r="0.6" fill="#111"/></g>
<text x="504.8" y="112.5" font-family="'Liberation Serif', serif" font-size="14.5">3</text>
<path d="M513.8,124.2 H519.5 Q523.5,124.2 524.5,128.2 L527.1,145.28" fill="none" stroke="#999" stroke-width="1"/>
<circle cx="527.1" cy="146.78" r="1.8" fill="#000"/>
<g transform="translate(491.2,127.9) scale(1)"><path d="M2.7,-9.3 C1.3,-7.6 0.3,-4.6 0.6,-2.4 C0.9,-0.4 2.6,0.3 3.9,-0.3 C5.3,-1 6.1,-3.6 6.3,-6.1 M6.3,-6.1 C6.2,-3.4 6.5,-0.6 8.1,-0.1 C9.6,0.3 11.1,-1.6 11.6,-3.8 C12,-5.6 11.9,-7.6 11.4,-8.9" fill="none" stroke="#111" stroke-width="1.35" stroke-linecap="round"/><circle cx="11.35" cy="-8.6" r="0.95" fill="#111"/><circle cx="2.75" cy="-9.2" r="0.6" fill="#111"/></g>
<text x="504.8" y="130.8" font-family="'Liberation Serif', serif" font-size="14.5">4</text>
<path d="M513.8,160.7 H519.5 Q523.5,160.7 524.5,164.7 L527.1,174.75" fill="none" stroke="#999" stroke-width="1"/>
<circle cx="527.1" cy="176.25" r="1.8" fill="#000"/>
<g transform="translate(491.2,164.4) scale(1)"><path d="M2.7,-9.3 C1.3,-7.6 0.3,-4.6 0.6,-2.4 C0.9,-0.4 2.6,0.3 3.9,-0.3 C5.3,-1 6.1,-3.6 6.3,-6.1 M6.3,-6.1 C6.2,-3.4 6.5,-0.6 8.1,-0.1 C9.6,0.3 11.1,-1.6 11.6,-3.8 C12,-5.6 11.9,-7.6 11.4,-8.9" fill="none" stroke="#111" stroke-width="1.35" stroke-linecap="round"/><circle cx="11.35" cy="-8.6" r="0.95" fill="#111"/><circle cx="2.75" cy="-9.2" r="0.6" fill="#111"/></g>
<text x="504.8" y="167.3" font-family="'Liberation Serif', serif" font-size="14.5">5</text>
<path d="M513.8,205.8 H519.5 Q523.5,205.8 524.5,209.8 L527.1,218.96" fill="none" stroke="#999" stroke-width="1"/>
<circle cx="527.1" cy="220.46" r="1.8" fill="#000"/>
<g transform="translate(491.2,209.5) scale(1)"><path d="M2.7,-9.3 C1.3,-7.6 0.3,-4.6 0.6,-2.4 C0.9,-0.4 2.6,0.3 3.9,-0.3 C5.3,-1 6.1,-3.6 6.3,-6.1 M6.3,-6.1 C6.2,-3.4 6.5,-0.6 8.1,-0.1 C9.6,0.3 11.1,-1.6 11.6,-3.8 C12,-5.6 11.9,-7.6 11.4,-8.9" fill="none" stroke="#111" stroke-width="1.35" stroke-linecap="round"/><circle cx="11.35" cy="-8.6" r="0.95" fill="#111"/><circle cx="2.75" cy="-9.2" r="0.6" fill="#111"/></g>
<text x="504.8" y="212.4" font-family="'Liberation Serif', serif" font-size="14.5">6</text>
<text x="2" y="273.4" font-family="'Liberation Serif', serif" font-size="23">(c) Complex frequency Green’s function</text>
<rect x="104.5" y="289.1" width="50.7" height="314" fill="#FDEAEA"/>
<rect x="155.2" y="289.1" width="143.3" height="314" fill="#CBEDF9"/>
<line x1="108.4" y1="289.1" x2="108.4" y2="603.1" stroke="#e8cfd2" stroke-width="1"/>
<path d="M104.5,341.5 H298.5 M104.5,394.5 H298.5 M104.5,446.5 H298.5 M104.5,498.5 H298.5 M104.5,551.5 H298.5" stroke="#777" stroke-opacity="0.55" stroke-width="1" fill="none"/>
<path d="M104.5,289.5 H298.5 V602.6 H104.5 Z" fill="none" stroke="#777" stroke-opacity="0.45" stroke-width="1"/>
<path d="M108.8,341.43 V339.83 M155.28,341.43 V339.83 M201.75,341.43 V339.83 M248.23,341.43 V339.83 M294.7,341.43 V339.83 M108.8,393.77 V392.17 M155.28,393.77 V392.17 M201.75,393.77 V392.17 M248.23,393.77 V392.17 M294.7,393.77 V392.17 M108.8,446.1 V444.5 M155.28,446.1 V444.5 M201.75,446.1 V444.5 M248.23,446.1 V444.5 M294.7,446.1 V444.5 M108.8,498.43 V496.83 M155.28,498.43 V496.83 M201.75,498.43 V496.83 M248.23,498.43 V496.83 M294.7,498.43 V496.83 M108.8,550.77 V549.17 M155.28,550.77 V549.17 M201.75,550.77 V549.17 M248.23,550.77 V549.17 M294.7,550.77 V549.17 M108.8,603.1 V601.5 M155.28,603.1 V601.5 M201.75,603.1 V601.5 M248.23,603.1 V601.5 M294.7,603.1 V601.5" stroke="#888" stroke-opacity="0.6" stroke-width="0.8" fill="none"/>
<path d="M111,336.4 C112.15,336.12 115.17,334.13 117.9,334.7 C120.63,335.27 124.12,339.92 127.4,339.8 C130.68,339.68 134.45,334.38 137.6,334 C140.75,333.62 144.12,337.42 146.3,337.5 C148.48,337.58 149.72,334.75 150.7,334.5 C151.68,334.25 151.72,335.75 152.2,336 C152.68,336.25 153.37,336 153.6,336 L157.3,292.2 C157.65,292.73 158.28,294.41 159.4,295.4 C160.52,296.39 162.23,297.14 164,298.15 C165.77,299.16 168,300.4 170,301.45 C172,302.5 174,303.49 176,304.44 C178,305.4 180,306.3 182,307.16 C184,308.02 186,308.84 188,309.63 C190,310.41 192,311.15 194,311.87 C196,312.58 198,313.25 200,313.9 C202,314.54 204,315.16 206,315.74 C208,316.33 210,316.89 212,317.42 C214,317.95 216,318.45 218,318.94 C220,319.42 222,319.88 224,320.32 C226,320.76 228,321.17 230,321.57 C232,321.97 234,322.35 236,322.71 C238,323.07 240,323.41 242,323.74 C244,324.07 245.75,324.18 248,324.68 C250.25,325.17 252.8,325.88 255.5,326.7 C258.2,327.52 261.17,329.37 264.2,329.6 C267.23,329.83 270.28,327.52 273.7,328.1 C277.12,328.68 281.17,333.1 284.7,333.1 C288.23,333.1 293.2,328.93 294.9,328.1" fill="none" stroke="#E2692A" stroke-width="1.15" stroke-linejoin="round"/>
<g transform="translate(114.3,301.5) scale(1)"><path d="M2.7,-9.3 C1.3,-7.6 0.3,-4.6 0.6,-2.4 C0.9,-0.4 2.6,0.3 3.9,-0.3 C5.3,-1 6.1,-3.6 6.3,-6.1 M6.3,-6.1 C6.2,-3.4 6.5,-0.6 8.1,-0.1 C9.6,0.3 11.1,-1.6 11.6,-3.8 C12,-5.6 11.9,-7.6 11.4,-8.9" fill="none" stroke="#111" stroke-width="1.35" stroke-linecap="round"/><circle cx="11.35" cy="-8.6" r="0.95" fill="#111"/><circle cx="2.75" cy="-9.2" r="0.6" fill="#111"/></g>
<text x="127.3" y="303.9" font-family="'Liberation Serif', serif" font-size="14.5">1</text>
<path d="M111,388 C112.15,387.53 115.17,384.82 117.9,385.2 C120.63,385.58 124.25,390.42 127.4,390.3 C130.55,390.18 133.65,384.37 136.8,384.5 C139.95,384.63 143.98,390.68 146.3,391.1 C148.62,391.52 149.6,387.62 150.7,387 C151.8,386.38 152.53,387.33 152.9,387.4 L157.3,358.2 C157.53,358.37 157.12,358.72 158.7,359.2 C160.28,359.68 163.75,361.1 166.8,361.1 C169.85,361.1 173.6,359.1 177,359.2 C180.4,359.3 183.92,361.82 187.2,361.7 C190.48,361.58 193.47,358.35 196.7,358.5 C199.93,358.65 203.25,362.65 206.6,362.6 C209.95,362.55 213.52,358.03 216.8,358.2 C220.08,358.37 223.13,363.73 226.3,363.6 C229.47,363.47 232.52,357.23 235.8,357.4 C239.08,357.57 242.72,364.95 246,364.6 C249.28,364.25 252.33,354.98 255.5,355.3 C258.67,355.62 261.72,366.82 265,366.5 C268.28,366.18 271.92,353.03 275.2,353.4 C278.48,353.77 281.42,370.28 284.7,368.7 C287.98,367.12 293.2,348.03 294.9,343.9" fill="none" stroke="#E2692A" stroke-width="1.15" stroke-linejoin="round"/>
<g transform="translate(114.3,353.83) scale(1)"><path d="M2.7,-9.3 C1.3,-7.6 0.3,-4.6 0.6,-2.4 C0.9,-0.4 2.6,0.3 3.9,-0.3 C5.3,-1 6.1,-3.6 6.3,-6.1 M6.3,-6.1 C6.2,-3.4 6.5,-0.6 8.1,-0.1 C9.6,0.3 11.1,-1.6 11.6,-3.8 C12,-5.6 11.9,-7.6 11.4,-8.9" fill="none" stroke="#111" stroke-width="1.35" stroke-linecap="round"/><circle cx="11.35" cy="-8.6" r="0.95" fill="#111"/><circle cx="2.75" cy="-9.2" r="0.6" fill="#111"/></g>
<text x="127.3" y="356.23" font-family="'Liberation Serif', serif" font-size="14.5">2</text>
<path d="M111,441.2 C112.15,440.9 115.17,439.17 117.9,439.4 C120.63,439.63 124.12,442.75 127.4,442.6 C130.68,442.45 134.45,438.5 137.6,438.5 C140.75,438.5 143.75,442.45 146.3,442.6 C148.85,442.75 151.07,442.43 152.9,439.4 C154.73,436.37 154.98,426.42 157.3,424.4 C159.62,422.38 163.4,427.47 166.8,427.3 C170.2,427.13 174.3,423.57 177.7,423.4 C181.1,423.23 183.92,426.7 187.2,426.3 C190.48,425.9 194.17,421.15 197.4,421 C200.63,420.85 203.37,425.82 206.6,425.4 C209.83,424.98 213.52,418.67 216.8,418.5 C220.08,418.33 223.13,424.95 226.3,424.4 C229.47,423.85 232.52,415.27 235.8,415.2 C239.08,415.13 242.72,424.58 246,424 C249.28,423.42 252.33,411.75 255.5,411.7 C258.67,411.65 261.72,424.43 265,423.7 C268.28,422.97 271.92,407.35 275.2,407.3 C278.48,407.25 281.42,425.25 284.7,423.4 C287.98,421.55 293.2,400.73 294.9,396.2" fill="none" stroke="#E2692A" stroke-width="1.15" stroke-linejoin="round"/>
<g transform="translate(114.3,406.17) scale(1)"><path d="M2.7,-9.3 C1.3,-7.6 0.3,-4.6 0.6,-2.4 C0.9,-0.4 2.6,0.3 3.9,-0.3 C5.3,-1 6.1,-3.6 6.3,-6.1 M6.3,-6.1 C6.2,-3.4 6.5,-0.6 8.1,-0.1 C9.6,0.3 11.1,-1.6 11.6,-3.8 C12,-5.6 11.9,-7.6 11.4,-8.9" fill="none" stroke="#111" stroke-width="1.35" stroke-linecap="round"/><circle cx="11.35" cy="-8.6" r="0.95" fill="#111"/><circle cx="2.75" cy="-9.2" r="0.6" fill="#111"/></g>
<text x="127.3" y="408.57" font-family="'Liberation Serif', serif" font-size="14.5">3</text>
<path d="M111,492.4 C112.15,491.87 115.17,489.07 117.9,489.2 C120.63,489.33 124.12,493.47 127.4,493.2 C130.68,492.93 134.45,487.73 137.6,487.6 C140.75,487.47 143.63,492.45 146.3,492.4 C148.97,492.35 151.65,488.2 153.6,487.3 C155.55,486.4 155.68,486.07 158,487 C160.32,487.93 164.22,493.38 167.5,492.9 C170.78,492.42 174.42,484.3 177.7,484.1 C180.98,483.9 183.92,492.18 187.2,491.7 C190.48,491.22 194.17,481.4 197.4,481.2 C200.63,481 203.37,490.98 206.6,490.5 C209.83,490.02 213.52,478.63 216.8,478.3 C220.08,477.97 223.13,489.23 226.3,488.5 C229.47,487.77 232.52,474.27 235.8,473.9 C239.08,473.53 242.72,487.22 246,486.3 C249.28,485.38 252.33,468.88 255.5,468.4 C258.67,467.92 261.72,484.38 265,483.4 C268.28,482.42 271.92,463.23 275.2,462.5 C278.48,461.77 281.42,481.23 284.7,479 C287.98,476.77 293.2,454.08 294.9,449.1" fill="none" stroke="#E2692A" stroke-width="1.15" stroke-linejoin="round"/>
<g transform="translate(114.3,458.5) scale(1)"><path d="M2.7,-9.3 C1.3,-7.6 0.3,-4.6 0.6,-2.4 C0.9,-0.4 2.6,0.3 3.9,-0.3 C5.3,-1 6.1,-3.6 6.3,-6.1 M6.3,-6.1 C6.2,-3.4 6.5,-0.6 8.1,-0.1 C9.6,0.3 11.1,-1.6 11.6,-3.8 C12,-5.6 11.9,-7.6 11.4,-8.9" fill="none" stroke="#111" stroke-width="1.35" stroke-linecap="round"/><circle cx="11.35" cy="-8.6" r="0.95" fill="#111"/><circle cx="2.75" cy="-9.2" r="0.6" fill="#111"/></g>
<text x="127.3" y="460.9" font-family="'Liberation Serif', serif" font-size="14.5">4</text>
<path d="M111,537.6 C112.15,536.43 115.3,530.6 117.9,530.6 C120.5,530.6 123.32,538.63 126.6,537.6 C129.88,536.57 134.32,525.57 137.6,524.4 C140.88,523.23 143.75,531.47 146.3,530.6 C148.85,529.73 151,517.7 152.9,519.2 C154.8,520.7 156.6,536.37 157.7,539.6 C158.8,542.83 157.87,537.92 159.5,538.6 C161.13,539.28 164.47,544.07 167.5,543.7 C170.53,543.33 174.42,536.2 177.7,536.4 C180.98,536.6 183.92,545.18 187.2,544.9 C190.48,544.62 194.17,534.47 197.4,534.7 C200.63,534.93 203.37,546.75 206.6,546.3 C209.83,545.85 213.65,532 216.8,532 C219.95,532 222.33,546.9 225.5,546.3 C228.67,545.7 232.38,528.35 235.8,528.4 C239.22,528.45 242.72,547.45 246,546.6 C249.28,545.75 252.42,524.02 255.5,523.3 C258.58,522.58 261.22,543.47 264.5,542.3 C267.78,541.13 271.97,517.57 275.2,516.3 C278.43,515.03 280.62,537.18 283.9,534.7 C287.18,532.22 293.07,506.95 294.9,501.4" fill="none" stroke="#E2692A" stroke-width="1.15" stroke-linejoin="round"/>
<g transform="translate(114.3,510.83) scale(1)"><path d="M2.7,-9.3 C1.3,-7.6 0.3,-4.6 0.6,-2.4 C0.9,-0.4 2.6,0.3 3.9,-0.3 C5.3,-1 6.1,-3.6 6.3,-6.1 M6.3,-6.1 C6.2,-3.4 6.5,-0.6 8.1,-0.1 C9.6,0.3 11.1,-1.6 11.6,-3.8 C12,-5.6 11.9,-7.6 11.4,-8.9" fill="none" stroke="#111" stroke-width="1.35" stroke-linecap="round"/><circle cx="11.35" cy="-8.6" r="0.95" fill="#111"/><circle cx="2.75" cy="-9.2" r="0.6" fill="#111"/></g>
<text x="127.3" y="513.23" font-family="'Liberation Serif', serif" font-size="14.5">5</text>
<path d="M111,589.1 C112.27,587.7 116.12,581.43 118.6,580.7 C121.08,579.97 122.62,586.7 125.9,584.7 C129.18,582.7 135.02,571.32 138.3,568.7 C141.58,566.08 143.77,569.57 145.6,569 C147.43,568.43 148.08,567.87 149.3,565.3 C150.52,562.73 152.3,555.55 152.9,553.6 L157.7,595 C158,594.55 156.28,592.55 159.5,592.3 C162.72,592.05 170.25,593.13 177,593.5 C183.75,593.87 195.07,594.02 200,594.5 C204.93,594.98 203.8,596.32 206.6,596.4 C209.4,596.48 213.52,594.83 216.8,595 C220.08,595.17 223.13,597.35 226.3,597.4 C229.47,597.45 232.52,594.98 235.8,595.3 C239.08,595.62 242.72,599.43 246,599.3 C249.28,599.17 252.47,594.2 255.5,594.5 C258.53,594.8 260.92,601.27 264.2,601.1 C267.48,600.93 271.92,593.8 275.2,593.5 C278.48,593.2 280.62,600.03 283.9,599.3 C287.18,598.57 293.07,590.8 294.9,589.1" fill="none" stroke="#E2692A" stroke-width="1.15" stroke-linejoin="round"/>
<g transform="translate(114.3,563.17) scale(1)"><path d="M2.7,-9.3 C1.3,-7.6 0.3,-4.6 0.6,-2.4 C0.9,-0.4 2.6,0.3 3.9,-0.3 C5.3,-1 6.1,-3.6 6.3,-6.1 M6.3,-6.1 C6.2,-3.4 6.5,-0.6 8.1,-0.1 C9.6,0.3 11.1,-1.6 11.6,-3.8 C12,-5.6 11.9,-7.6 11.4,-8.9" fill="none" stroke="#111" stroke-width="1.35" stroke-linecap="round"/><circle cx="11.35" cy="-8.6" r="0.95" fill="#111"/><circle cx="2.75" cy="-9.2" r="0.6" fill="#111"/></g>
<text x="127.3" y="565.57" font-family="'Liberation Serif', serif" font-size="14.5">6</text>
<text x="108.8" y="618.2" font-family="'Liberation Serif', serif" font-size="15.5" text-anchor="middle">0</text>
<text x="155.28" y="618.2" font-family="'Liberation Serif', serif" font-size="15.5" text-anchor="middle">40</text>
<text x="201.75" y="618.2" font-family="'Liberation Serif', serif" font-size="15.5" text-anchor="middle">80</text>
<text x="248.23" y="618.2" font-family="'Liberation Serif', serif" font-size="15.5" text-anchor="middle">120</text>
<text x="294.7" y="618.2" font-family="'Liberation Serif', serif" font-size="15.5" text-anchor="middle">160</text>
<g transform="translate(0,0)" fill="none" stroke="#111" stroke-linecap="round"><path d="M198.9,627.6 C199.5,626.2 200.6,625.3 201.8,625.3 C203.2,625.3 203.9,626.2 203.6,627.6 L202.3,632.8 C202,634 201,634.6 200,634.4" stroke-width="1.05"/><path d="M203.7,627.2 L202.4,632.6" stroke-width="1.6"/><path d="M203.6,627.6 C204.2,626.1 205.3,625.3 206.4,625.4 M202.3,632.8 C202.6,633.8 203.4,634.4 204.4,634.3 C205.6,634.2 206.6,633.2 207.2,631.2" stroke-width="0.95"/><circle cx="207" cy="626.4" r="0.95" fill="#111" stroke="none"/><circle cx="199.3" cy="633.1" r="0.9" fill="#111" stroke="none"/></g>
<rect x="484.5" y="289.1" width="50.7" height="314" fill="#FDEAEA"/>
<rect x="535.2" y="289.1" width="143.3" height="314" fill="#CBEDF9"/>
<line x1="488.4" y1="289.1" x2="488.4" y2="603.1" stroke="#e8cfd2" stroke-width="1"/>
<path d="M484.5,341.5 H678.5 M484.5,394.5 H678.5 M484.5,446.5 H678.5 M484.5,498.5 H678.5 M484.5,551.5 H678.5" stroke="#777" stroke-opacity="0.55" stroke-width="1" fill="none"/>
<path d="M484.5,289.5 H678.5 V602.6 H484.5 Z" fill="none" stroke="#777" stroke-opacity="0.45" stroke-width="1"/>
<path d="M488.8,341.43 V339.83 M535.28,341.43 V339.83 M581.75,341.43 V339.83 M628.23,341.43 V339.83 M674.7,341.43 V339.83 M488.8,393.77 V392.17 M535.28,393.77 V392.17 M581.75,393.77 V392.17 M628.23,393.77 V392.17 M674.7,393.77 V392.17 M488.8,446.1 V444.5 M535.28,446.1 V444.5 M581.75,446.1 V444.5 M628.23,446.1 V444.5 M674.7,446.1 V444.5 M488.8,498.43 V496.83 M535.28,498.43 V496.83 M581.75,498.43 V496.83 M628.23,498.43 V496.83 M674.7,498.43 V496.83 M488.8,550.77 V549.17 M535.28,550.77 V549.17 M581.75,550.77 V549.17 M628.23,550.77 V549.17 M674.7,550.77 V549.17 M488.8,603.1 V601.5 M535.28,603.1 V601.5 M581.75,603.1 V601.5 M628.23,603.1 V601.5 M674.7,603.1 V601.5" stroke="#888" stroke-opacity="0.6" stroke-width="0.8" fill="none"/>
<path d="M491,338.6 C492.15,338.43 495.67,337.47 497.9,337.6 C500.13,337.73 501.73,340.08 504.4,339.4 C507.07,338.72 511.1,333.5 513.9,333.5 C516.7,333.5 518.4,340.13 521.2,339.4 C524,338.67 528.82,330.32 530.7,329.1 C532.58,327.88 532.2,331.6 532.5,332.1 L537.3,291.9 C537.78,292.52 538.62,294.62 540.2,295.6 C541.78,296.58 544,296.47 546.8,297.8 C549.6,299.13 553.6,301.78 557,303.6 C560.4,305.42 563.37,307.05 567.2,308.7 C571.03,310.35 576.9,312.35 580,313.5 C583.1,314.65 583.37,315.02 585.8,315.6 C588.23,316.18 591.67,316.2 594.6,317 C597.53,317.8 600.72,319.88 603.4,320.4 C606.08,320.92 607.55,319.55 610.7,320.1 C613.85,320.65 619.15,323 622.3,323.7 C625.45,324.4 625.95,323.63 629.6,324.3 C633.25,324.97 639.82,327.38 644.2,327.7 C648.58,328.02 652.62,325.6 655.9,326.2 C659.18,326.8 660.85,331.67 663.9,331.3 C666.95,330.93 672.48,325.22 674.2,324" fill="none" stroke="#E2692A" stroke-width="1.15" stroke-linejoin="round"/>
<g transform="translate(494.3,301.5) scale(1)"><path d="M2.7,-9.3 C1.3,-7.6 0.3,-4.6 0.6,-2.4 C0.9,-0.4 2.6,0.3 3.9,-0.3 C5.3,-1 6.1,-3.6 6.3,-6.1 M6.3,-6.1 C6.2,-3.4 6.5,-0.6 8.1,-0.1 C9.6,0.3 11.1,-1.6 11.6,-3.8 C12,-5.6 11.9,-7.6 11.4,-8.9" fill="none" stroke="#111" stroke-width="1.35" stroke-linecap="round"/><circle cx="11.35" cy="-8.6" r="0.95" fill="#111"/><circle cx="2.75" cy="-9.2" r="0.6" fill="#111"/></g>
<text x="507.3" y="303.9" font-family="'Liberation Serif', serif" font-size="14.5">1</text>
<path d="M490.6,372.4 C491.82,371.02 495.4,364.58 497.9,364.1 C500.4,363.62 502.32,370.8 505.6,369.5 C508.88,368.2 514.52,358.62 517.6,356.3 C520.68,353.98 522.4,356.2 524.1,355.6 C525.8,355 526.38,354.65 527.8,352.7 C529.22,350.75 531.8,345.37 532.6,343.9 L537.3,387.7 C537.67,387.22 537.68,384.68 539.5,384.8 C541.32,384.92 544.84,387.63 548.2,388.4 C551.56,389.17 555.85,389.14 559.68,389.44 C563.51,389.73 567.34,389.97 571.16,390.19 C574.99,390.41 578.82,390.58 582.65,390.74 C586.47,390.89 590.3,391.02 594.13,391.14 C597.95,391.25 601.78,391.34 605.61,391.43 C609.44,391.51 613.26,391.58 617.09,391.64 C620.92,391.7 624.75,391.75 628.57,391.79 C632.4,391.83 636.23,391.87 640.05,391.9 C643.88,391.93 647.71,391.96 651.54,391.98 C655.36,392.01 659.19,392.03 663.02,392.04 C666.85,392.06 672.59,392.08 674.5,392.09" fill="none" stroke="#E2692A" stroke-width="1.15" stroke-linejoin="round"/>
<g transform="translate(494.3,353.83) scale(1)"><path d="M2.7,-9.3 C1.3,-7.6 0.3,-4.6 0.6,-2.4 C0.9,-0.4 2.6,0.3 3.9,-0.3 C5.3,-1 6.1,-3.6 6.3,-6.1 M6.3,-6.1 C6.2,-3.4 6.5,-0.6 8.1,-0.1 C9.6,0.3 11.1,-1.6 11.6,-3.8 C12,-5.6 11.9,-7.6 11.4,-8.9" fill="none" stroke="#111" stroke-width="1.35" stroke-linecap="round"/><circle cx="11.35" cy="-8.6" r="0.95" fill="#111"/><circle cx="2.75" cy="-9.2" r="0.6" fill="#111"/></g>
<text x="507.3" y="356.23" font-family="'Liberation Serif', serif" font-size="14.5">2</text>
<path d="M490.6,427.7 C491.82,426.42 495.4,420.72 497.9,420 C500.4,419.28 502.2,424.93 505.6,423.4 C509,421.87 515.33,413.18 518.3,410.8 C521.27,408.42 521.82,410 523.4,409.1 C524.98,408.2 526.27,407.55 527.8,405.4 C529.33,403.25 531.8,397.73 532.6,396.2 L537.3,440.4 C537.67,440.08 537.68,438.42 539.5,438.5 C541.32,438.58 544.84,440.33 548.2,440.9 C551.56,441.47 555.85,441.62 559.68,441.91 C563.51,442.2 567.34,442.43 571.16,442.64 C574.99,442.85 578.82,443.02 582.65,443.18 C586.47,443.33 590.3,443.45 594.13,443.56 C597.95,443.68 601.78,443.76 605.61,443.85 C609.44,443.93 613.26,443.99 617.09,444.05 C620.92,444.11 624.75,444.16 628.57,444.2 C632.4,444.24 636.23,444.28 640.05,444.31 C643.88,444.34 647.71,444.37 651.54,444.39 C655.36,444.41 659.19,444.43 663.02,444.45 C666.85,444.46 672.59,444.48 674.5,444.49" fill="none" stroke="#E2692A" stroke-width="1.15" stroke-linejoin="round"/>
<g transform="translate(494.3,406.17) scale(1)"><path d="M2.7,-9.3 C1.3,-7.6 0.3,-4.6 0.6,-2.4 C0.9,-0.4 2.6,0.3 3.9,-0.3 C5.3,-1 6.1,-3.6 6.3,-6.1 M6.3,-6.1 C6.2,-3.4 6.5,-0.6 8.1,-0.1 C9.6,0.3 11.1,-1.6 11.6,-3.8 C12,-5.6 11.9,-7.6 11.4,-8.9" fill="none" stroke="#111" stroke-width="1.35" stroke-linecap="round"/><circle cx="11.35" cy="-8.6" r="0.95" fill="#111"/><circle cx="2.75" cy="-9.2" r="0.6" fill="#111"/></g>
<text x="507.3" y="408.57" font-family="'Liberation Serif', serif" font-size="14.5">3</text>
<path d="M490.6,484.1 C491.82,483.13 495.6,479.1 497.9,478.3 C500.2,477.5 501.12,481.08 504.4,479.3 C507.68,477.52 513.95,470.63 517.6,467.6 C521.25,464.57 523.8,464.27 526.3,461.1 C528.8,457.93 531.55,450.68 532.6,448.6 L537.3,493.2 C537.67,492.9 537.68,491.4 539.5,491.4 C541.32,491.4 544.84,492.74 548.2,493.2 C551.56,493.66 555.85,493.9 559.68,494.18 C563.51,494.46 567.34,494.69 571.16,494.89 C574.99,495.1 578.82,495.26 582.65,495.41 C586.47,495.56 590.3,495.68 594.13,495.79 C597.95,495.9 601.78,495.99 605.61,496.07 C609.44,496.15 613.26,496.21 617.09,496.27 C620.92,496.32 624.75,496.37 628.57,496.41 C632.4,496.45 636.23,496.49 640.05,496.52 C643.88,496.55 647.71,496.57 651.54,496.59 C655.36,496.62 659.19,496.63 663.02,496.65 C666.85,496.67 672.59,496.68 674.5,496.69" fill="none" stroke="#E2692A" stroke-width="1.15" stroke-linejoin="round"/>
<g transform="translate(494.3,458.5) scale(1)"><path d="M2.7,-9.3 C1.3,-7.6 0.3,-4.6 0.6,-2.4 C0.9,-0.4 2.6,0.3 3.9,-0.3 C5.3,-1 6.1,-3.6 6.3,-6.1 M6.3,-6.1 C6.2,-3.4 6.5,-0.6 8.1,-0.1 C9.6,0.3 11.1,-1.6 11.6,-3.8 C12,-5.6 11.9,-7.6 11.4,-8.9" fill="none" stroke="#111" stroke-width="1.35" stroke-linecap="round"/><circle cx="11.35" cy="-8.6" r="0.95" fill="#111"/><circle cx="2.75" cy="-9.2" r="0.6" fill="#111"/></g>
<text x="507.3" y="460.9" font-family="'Liberation Serif', serif" font-size="14.5">4</text>
<path d="M490.6,539.6 C491.82,538.78 495.6,535.6 497.9,534.7 C500.2,533.8 501.37,535.98 504.4,534.2 C507.43,532.42 512.45,527.28 516.1,524 C519.75,520.72 523.55,518.32 526.3,514.5 C529.05,510.68 531.55,503.33 532.6,501.1 L537.3,546.3 C537.67,545.87 537.68,543.77 539.5,543.7 C541.32,543.63 544.84,545.37 548.2,545.9 C551.56,546.43 555.85,546.62 559.68,546.91 C563.51,547.2 567.34,547.43 571.16,547.64 C574.99,547.85 578.82,548.02 582.65,548.18 C586.47,548.33 590.3,548.45 594.13,548.56 C597.95,548.68 601.78,548.76 605.61,548.85 C609.44,548.93 613.26,548.99 617.09,549.05 C620.92,549.11 624.75,549.16 628.57,549.2 C632.4,549.24 636.23,549.28 640.05,549.31 C643.88,549.34 647.71,549.37 651.54,549.39 C655.36,549.41 659.19,549.43 663.02,549.45 C666.85,549.46 672.59,549.48 674.5,549.49" fill="none" stroke="#E2692A" stroke-width="1.15" stroke-linejoin="round"/>
<g transform="translate(494.3,510.83) scale(1)"><path d="M2.7,-9.3 C1.3,-7.6 0.3,-4.6 0.6,-2.4 C0.9,-0.4 2.6,0.3 3.9,-0.3 C5.3,-1 6.1,-3.6 6.3,-6.1 M6.3,-6.1 C6.2,-3.4 6.5,-0.6 8.1,-0.1 C9.6,0.3 11.1,-1.6 11.6,-3.8 C12,-5.6 11.9,-7.6 11.4,-8.9" fill="none" stroke="#111" stroke-width="1.35" stroke-linecap="round"/><circle cx="11.35" cy="-8.6" r="0.95" fill="#111"/><circle cx="2.75" cy="-9.2" r="0.6" fill="#111"/></g>
<text x="507.3" y="513.23" font-family="'Liberation Serif', serif" font-size="14.5">5</text>
<path d="M490.6,595.5 C491.82,594.85 495.6,592.5 497.9,591.6 C500.2,590.7 501.37,592.05 504.4,590.1 C507.43,588.15 512.45,583.42 516.1,579.9 C519.75,576.38 523.55,573.38 526.3,569 C529.05,564.62 531.55,556.17 532.6,553.6 L537.3,598.5 C537.67,598.15 537.68,596.45 539.5,596.4 C541.32,596.35 544.84,597.75 548.2,598.2 C551.56,598.65 555.85,598.86 559.68,599.13 C563.51,599.39 567.34,599.61 571.16,599.8 C574.99,599.99 578.82,600.15 582.65,600.29 C586.47,600.43 590.3,600.55 594.13,600.65 C597.95,600.75 601.78,600.83 605.61,600.91 C609.44,600.98 613.26,601.04 617.09,601.1 C620.92,601.15 624.75,601.19 628.57,601.23 C632.4,601.27 636.23,601.3 640.05,601.33 C643.88,601.36 647.71,601.39 651.54,601.41 C655.36,601.43 659.19,601.44 663.02,601.46 C666.85,601.47 672.59,601.49 674.5,601.5" fill="none" stroke="#E2692A" stroke-width="1.15" stroke-linejoin="round"/>
<g transform="translate(494.3,563.17) scale(1)"><path d="M2.7,-9.3 C1.3,-7.6 0.3,-4.6 0.6,-2.4 C0.9,-0.4 2.6,0.3 3.9,-0.3 C5.3,-1 6.1,-3.6 6.3,-6.1 M6.3,-6.1 C6.2,-3.4 6.5,-0.6 8.1,-0.1 C9.6,0.3 11.1,-1.6 11.6,-3.8 C12,-5.6 11.9,-7.6 11.4,-8.9" fill="none" stroke="#111" stroke-width="1.35" stroke-linecap="round"/><circle cx="11.35" cy="-8.6" r="0.95" fill="#111"/><circle cx="2.75" cy="-9.2" r="0.6" fill="#111"/></g>
<text x="507.3" y="565.57" font-family="'Liberation Serif', serif" font-size="14.5">6</text>
<text x="488.8" y="618.2" font-family="'Liberation Serif', serif" font-size="15.5" text-anchor="middle">0</text>
<text x="535.28" y="618.2" font-family="'Liberation Serif', serif" font-size="15.5" text-anchor="middle">40</text>
<text x="581.75" y="618.2" font-family="'Liberation Serif', serif" font-size="15.5" text-anchor="middle">80</text>
<text x="628.23" y="618.2" font-family="'Liberation Serif', serif" font-size="15.5" text-anchor="middle">120</text>
<text x="674.7" y="618.2" font-family="'Liberation Serif', serif" font-size="15.5" text-anchor="middle">160</text>
<g transform="translate(380,0)" fill="none" stroke="#111" stroke-linecap="round"><path d="M198.9,627.6 C199.5,626.2 200.6,625.3 201.8,625.3 C203.2,625.3 203.9,626.2 203.6,627.6 L202.3,632.8 C202,634 201,634.6 200,634.4" stroke-width="1.05"/><path d="M203.7,627.2 L202.4,632.6" stroke-width="1.6"/><path d="M203.6,627.6 C204.2,626.1 205.3,625.3 206.4,625.4 M202.3,632.8 C202.6,633.8 203.4,634.4 204.4,634.3 C205.6,634.2 206.6,633.2 207.2,631.2" stroke-width="0.95"/><circle cx="207" cy="626.4" r="0.95" fill="#111" stroke="none"/><circle cx="199.3" cy="633.1" r="0.9" fill="#111" stroke="none"/></g>
<text x="19.7" y="305.8" font-family="'Liberation Serif', serif" font-size="19">NHA</text>
<text x="41" y="466.3" font-family="'Liberation Serif', serif" font-size="18" text-anchor="middle">Non-Bloch</text>
<text x="41" y="487.4" font-family="'Liberation Serif', serif" font-size="18" text-anchor="middle">region</text>
<path d="M104.5,394 H96.4 Q94.6,394 94.6,395.8 V469.5 Q94.6,471.8 92.5,471.8 H84.7 M92.5,471.8 Q94.6,471.8 94.6,474 V548.5 Q94.6,550.3 96.4,550.3 H104.5" fill="none" stroke="#4a4a4a" stroke-width="1.2"/>
<text x="411.7" y="307.8" font-family="'Liberation Serif', serif" font-size="23">Exact</text>
<text x="439.5" y="458.2" font-family="'Liberation Serif', serif" font-size="18" text-anchor="middle">No</text>
<text x="439.5" y="475.8" font-family="'Liberation Serif', serif" font-size="18" text-anchor="middle">non-Bloch</text>
<text x="439.5" y="495.5" font-family="'Liberation Serif', serif" font-size="18" text-anchor="middle">region</text>
</svg>
</body></html>
